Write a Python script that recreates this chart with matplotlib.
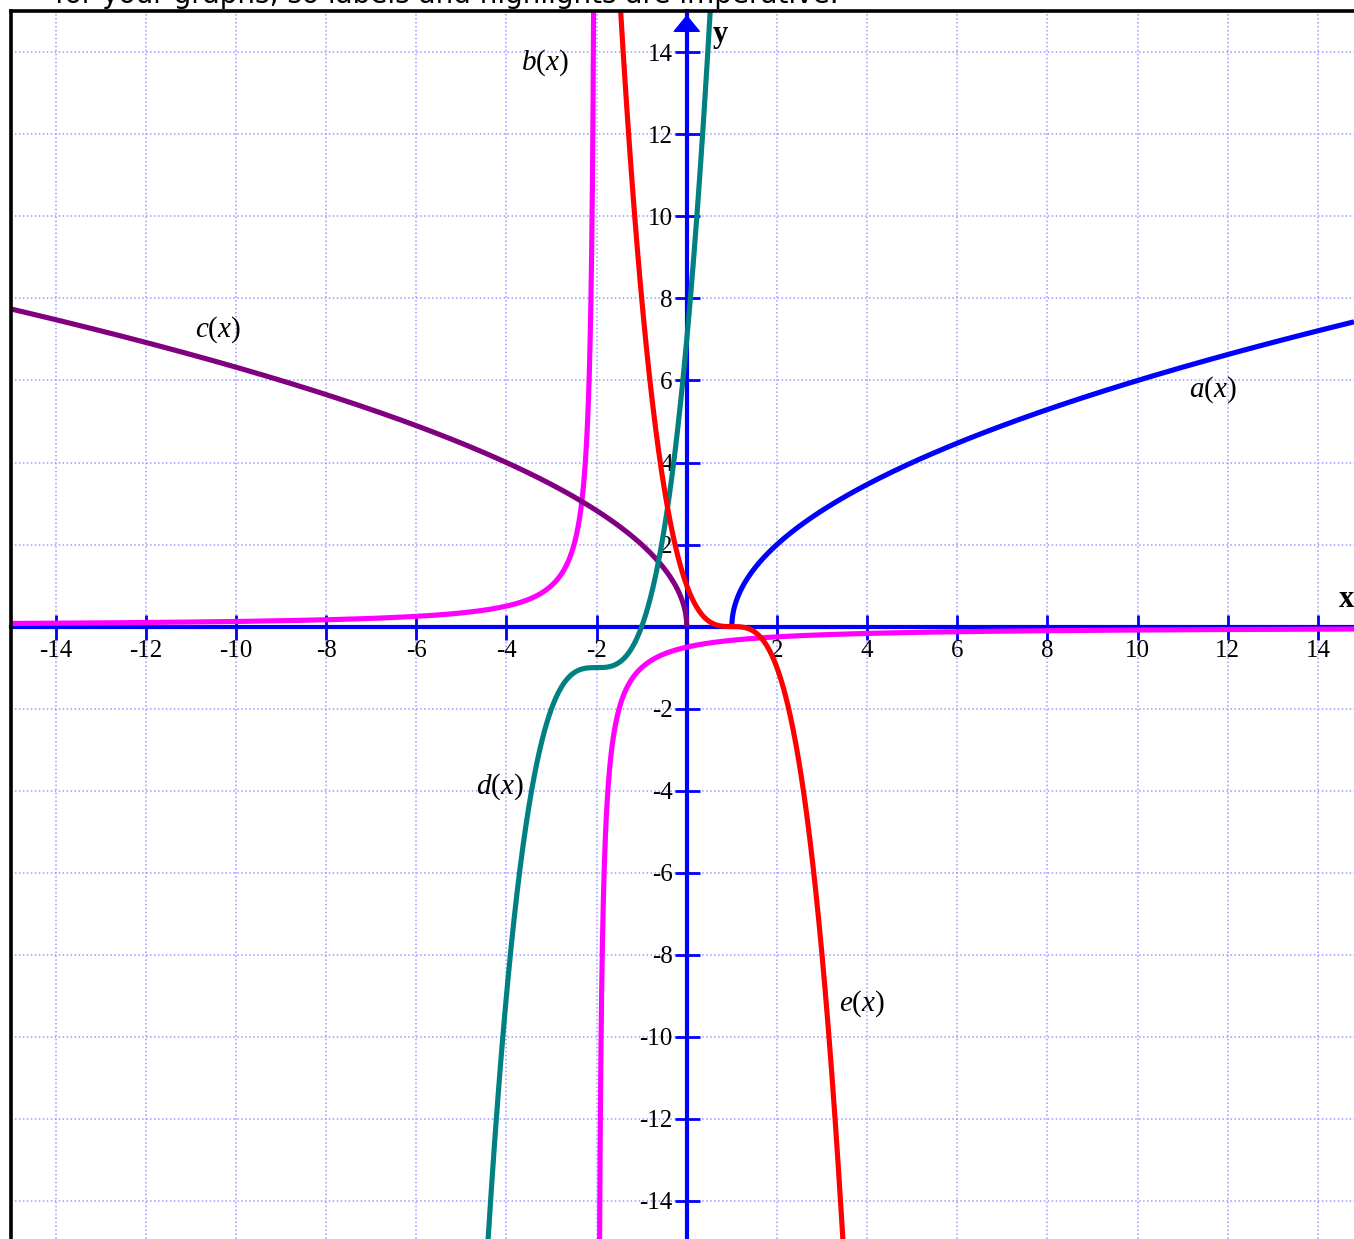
import numpy as np
import matplotlib
matplotlib.use("Agg")
import matplotlib.pyplot as plt

# ---- curve parameters -------------------------------------------------
# a(x) = a_coef * sqrt(x - a_start)
a_coef, a_start = 2.0, 1.0
# b(x) = b_coef / (x - b_pole)
b_coef, b_pole = -1.0, -2.0
# c(x) = c_coef * sqrt(c_end - x)
c_coef, c_end = 2.0, 0.0
# d(x) = (x - d_h)^3 + d_k
d_h, d_k = -2.0, -1.0
# e(x) = e_sign * (x - e_h)^3 + e_k
e_sign, e_h, e_k = -1.0, 1.0, 0.0

x_ticks = [-14, -12, -10, -8, -6, -4, -2, 2, 4, 6, 8, 10, 12, 14]
y_ticks = [-14, -12, -10, -8, -6, -4, -2, 2, 4, 6, 8, 10, 12, 14]
curve_names = ["a", "b", "c", "d", "e"]
heading = "for your graphs, so labels and highlights are imperative."

# ---- figure -----------------------------------------------------------
W, H, DPI = 1354, 1239, 100
plt.rcParams["axes.unicode_minus"] = False
plt.rcParams["mathtext.fontset"] = "custom"
plt.rcParams["mathtext.rm"] = "Liberation Serif"
plt.rcParams["mathtext.it"] = "Liberation Serif:italic"
plt.rcParams["mathtext.bf"] = "Liberation Serif:bold"

fig = plt.figure(figsize=(W / DPI, H / DPI), dpi=DPI)
fig.patch.set_facecolor("white")
ax = fig.add_axes([10.5 / W, 0, (W - 10.5) / W, (H - 10.5) / H])
ax.set_xlim(-15.0, 14.8)
ax.set_ylim(-14.93, 15.02)

# axes through the origin
for side in ("top", "right"):
    ax.spines[side].set_visible(False)
for side in ("left", "bottom"):
    ax.spines[side].set_position(("data", 0))
    ax.spines[side].set_color("blue")
    ax.spines[side].set_linewidth(3)

ax.set_xticks(x_ticks)
ax.set_yticks(y_ticks)
ax.set_xticklabels([str(t) for t in x_ticks])
ax.set_yticklabels([str(t) for t in y_ticks])
ax.tick_params(axis="both", direction="inout", length=18, width=2,
               color="blue", labelsize=18, pad=1)
for lab in ax.get_xticklabels() + ax.get_yticklabels():
    lab.set_fontfamily("Liberation Serif")
ax.grid(True, color="#9a9aff", linestyle=(0, (1, 1.6)), linewidth=1.1)

# outer frame (left and top edges)
ax.plot([0, 0], [0, 1], transform=ax.transAxes, color="black", lw=2.6,
        clip_on=False, zorder=5, solid_capstyle="projecting")
ax.plot([0, 1], [1, 1], transform=ax.transAxes, color="black", lw=2.6,
        clip_on=False, zorder=5, solid_capstyle="projecting")

# axis arrow heads
ax.annotate("", xy=(0, 14.98), xytext=(0, 14.5),
            arrowprops=dict(arrowstyle="-|>,head_length=0.55,head_width=0.45",
                            color="blue", lw=1, mutation_scale=20))
ax.annotate("", xy=(14.98, 0), xytext=(14.4, 0),
            arrowprops=dict(arrowstyle="-|>,head_length=0.55,head_width=0.45",
                            color="blue", lw=1, mutation_scale=20))
ax.text(14.44, 0.48, r"$\mathbf{x}$", fontsize=22, ha="left", va="baseline")
ax.text(0.56, 14.74, r"$\mathbf{y}$", fontsize=22, ha="left", va="top")

# ---- curves -----------------------------------------------------------
lw = 3.7
style = dict(lw=lw, solid_capstyle="butt", zorder=3)
x0, x1 = -15.0, 14.8

# a(x)
t = np.linspace(0, 1, 3000)
xa = a_start + (x1 - a_start) * t ** 2
ax.plot(xa, a_coef * np.sqrt(xa - a_start), color="#0000ff", **style)

# b(x): two branches either side of the pole
eps = abs(b_coef) / 16.0
xb_left = np.linspace(x0, b_pole - eps, 3000)
xb_right = np.linspace(b_pole + eps, x1, 3000)
ax.plot(xb_left, b_coef / (xb_left - b_pole), color="#ff00ff", **style)
ax.plot(xb_right, b_coef / (xb_right - b_pole), color="#ff00ff", **style)

# c(x)
xc = c_end - (c_end - x0) * t ** 2
ax.plot(xc, c_coef * np.sqrt(c_end - xc), color="#800080", **style)

# d(x)
xd = np.linspace(x0, x1, 4000)
ax.plot(xd, (xd - d_h) ** 3 + d_k, color="#008080", **style)

# e(x)
xe = np.linspace(x0, x1, 4000)
ax.plot(xe, e_sign * (xe - e_h) ** 3 + e_k, color="#ff0000", **style)

# curve labels
label_pos = {"a": (11.68, 5.78), "b": (-3.14, 13.76), "c": (-10.4, 7.23),
             "d": (-4.15, -3.91), "e": (3.89, -9.20)}
for name in curve_names:
    lx, ly = label_pos[name]
    ax.text(lx, ly, rf"${name}(x)$", fontsize=21, ha="center", va="center",
            zorder=4)

# heading line above the frame
txt = fig.text(55 / W, 1 - 3 / H, heading, fontsize=18, family="DejaVu Sans",
               ha="left", va="baseline")
renderer = fig.canvas.get_renderer()
width = txt.get_window_extent(renderer).width
txt.set_fontsize(18 * 788 / width)

fig.savefig("out.png", dpi=DPI, facecolor="white")
